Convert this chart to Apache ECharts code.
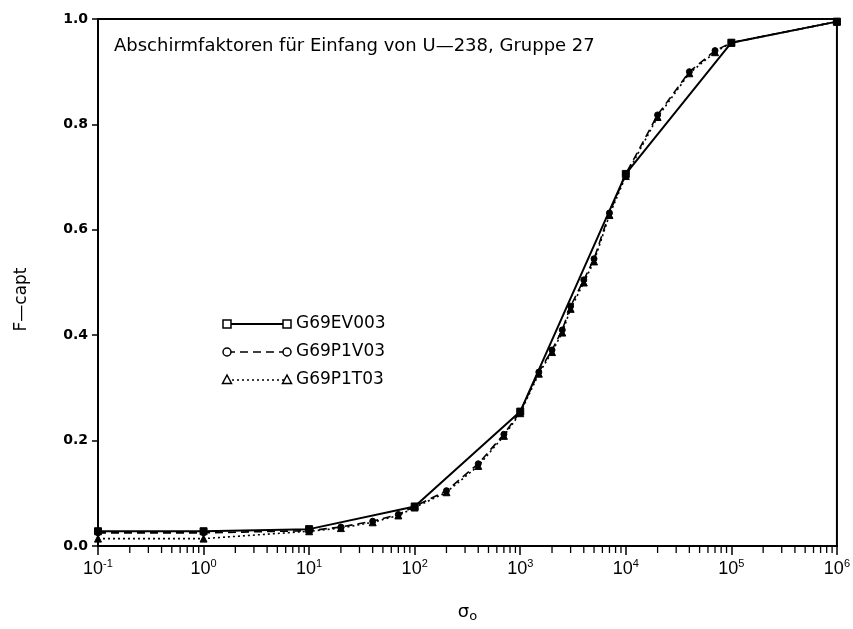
<!DOCTYPE html>
<html>
<head>
<meta charset="utf-8">
<script src="https://cdn.jsdelivr.net/npm/echarts@6/dist/echarts.min.js"></script>
<style>html,body{margin:0;padding:0;background:#fff}#c{width:853px;height:629px}</style>
</head>
<body>
<div id="c"></div>
<script>
// ---- data ----
const sigmaEV = [0.1, 1, 10, 100, 1000, 10000, 100000, 1000000];
const fEV     = [0.028, 0.028, 0.032, 0.075, 0.255, 0.706, 0.955, 0.995];

const sigmaP  = [0.1, 1, 10, 20, 40, 70, 100, 200, 400, 700, 1000, 1500, 2000, 2500, 3000, 4000, 5000, 7000, 10000, 20000, 40000, 70000, 100000, 1000000];
const fP1V    = [0.025, 0.025, 0.029, 0.036, 0.047, 0.06, 0.075, 0.105, 0.156, 0.212, 0.255, 0.33, 0.372, 0.41, 0.455, 0.505, 0.545, 0.632, 0.706, 0.818, 0.9, 0.94, 0.955, 0.995];
const fP1T    = [0.014, 0.014, 0.028, 0.034, 0.045, 0.058, 0.073, 0.102, 0.152, 0.209, 0.252, 0.327, 0.368, 0.405, 0.45, 0.5, 0.54, 0.628, 0.702, 0.814, 0.897, 0.937, 0.955, 0.995];

const seriesNames = ['G69EV003', 'G69P1V03', 'G69P1T03'];
const titleText = 'Abschirmfaktoren für Einfang von U—238, Gruppe 27';
const yName = 'F—capt';

// minor tick positions of the log axis (2..9 in each decade)
const minorTicks = [];
for (let d = -1; d < 6; d++) for (let k = 2; k <= 9; k++) minorTicks.push([k * Math.pow(10, d), 0]);

const FONT = 'DejaVu Sans';
const chart = echarts.init(document.getElementById('c'), null, {renderer: 'canvas'});

function pairs(xs, ys) { return xs.map((x, i) => [x, ys[i]]); }

const lineStyles = [
  {type: 'solid', width: 2},
  {type: [8, 5], width: 1.6},
  {type: [2, 3], width: 1.6}
];

// legend built as graphic (line with marker at both ends + text)
const legendRows = [324, 352, 380];
const legendGraphics = [];
seriesNames.forEach((n, i) => {
  const y = legendRows[i];
  legendGraphics.push({type: 'line', shape: {x1: 227, y1: y, x2: 287, y2: y},
    style: {stroke: '#000', lineWidth: i === 0 ? 2 : 1.6, lineDash: i === 0 ? null : lineStyles[i].type}});
  const mk = (cx) => {
    if (i === 0) return {type: 'rect', shape: {x: cx - 4, y: y - 4, width: 8, height: 8}, style: {fill: '#fff', stroke: '#000', lineWidth: 1.5}};
    if (i === 1) return {type: 'circle', shape: {cx: cx, cy: y, r: 4}, style: {fill: '#fff', stroke: '#000', lineWidth: 1.5}};
    return {type: 'polygon', shape: {points: [[cx, y - 5], [cx - 4.5, y + 3.5], [cx + 4.5, y + 3.5]]}, style: {fill: '#fff', stroke: '#000', lineWidth: 1.5}};
  };
  legendGraphics.push(mk(227));
  legendGraphics.push(mk(287));
  legendGraphics.push({type: 'text', x: 296, y: y, style: {text: n, font: '17px "' + FONT + '"', fill: '#000', textVerticalAlign: 'middle'}});
});

const option = {
  backgroundColor: '#fff',
  animation: false,
  title: {text: titleText, left: 109, top: 32, textStyle: {fontFamily: FONT, fontSize: 18, fontWeight: 'normal', color: '#000'}},
  grid: {left: 98, right: 8, top: 19, bottom: 83, show: true, borderColor: '#000', borderWidth: 2, backgroundColor: 'transparent'},
  xAxis: {
    type: 'log', logBase: 10, min: 0.1, max: 1000000, interval: 1,
    axisLine: {show: true, lineStyle: {color: '#000', width: 2}},
    axisTick: {show: true, inside: false, length: 9, lineStyle: {color: '#000', width: 1.5}},
    splitLine: {show: false},
    axisLabel: {
      margin: 12,
      formatter: function (v) {
        const e = Math.round(Math.log10(v));
        return '{b|10}{s|' + e + '}';
      },
      rich: {
        b: {fontFamily: 'Liberation Sans', fontSize: 18, color: '#000'},
        s: {fontFamily: 'Liberation Sans', fontSize: 11, color: '#000', padding: [0, 0, 12, 0]}
      }
    },
    name: '{a|σ}{o|o}', nameLocation: 'middle', nameGap: 56,
    nameTextStyle: {rich: {a: {fontFamily: FONT, fontSize: 18, color: '#000'}, o: {fontFamily: FONT, fontSize: 13, color: '#000', padding: [8, 0, 0, 0]}}}
  },
  yAxis: {
    type: 'value', min: 0, max: 1, interval: 0.2,
    axisLine: {show: true, lineStyle: {color: '#000', width: 2}},
    axisTick: {show: true, inside: false, length: 6, lineStyle: {color: '#000', width: 1.5}},
    splitLine: {show: false},
    axisLabel: {margin: 10, fontFamily: FONT, fontSize: 14, fontWeight: 'bold', color: '#000', formatter: v => v.toFixed(1)},
    name: yName, nameLocation: 'middle', nameGap: 68,
    nameTextStyle: {fontFamily: FONT, fontSize: 17, color: '#000', padding: [0, 34, 0, 0]}
  },
  graphic: legendGraphics,
  series: [
    {name: seriesNames[0], type: 'line', data: pairs(sigmaEV, fEV), symbol: 'rect', symbolSize: 7, showSymbol: true,
      lineStyle: {color: '#000', type: lineStyles[0].type, width: lineStyles[0].width},
      itemStyle: {color: '#000', borderColor: '#000', borderWidth: 1}, z: 3},
    {name: seriesNames[1], type: 'line', data: pairs(sigmaP, fP1V), symbol: 'circle', symbolSize: 6, showSymbol: true,
      lineStyle: {color: '#000', type: lineStyles[1].type, width: lineStyles[1].width},
      itemStyle: {color: '#000', borderColor: '#000', borderWidth: 1}, z: 3},
    {name: seriesNames[2], type: 'line', data: pairs(sigmaP, fP1T), symbol: 'triangle', symbolSize: 7, showSymbol: true,
      lineStyle: {color: '#000', type: lineStyles[2].type, width: lineStyles[2].width},
      itemStyle: {color: '#000', borderColor: '#000', borderWidth: 1}, z: 3},
    {type: 'custom', data: minorTicks, clip: false, silent: true, z: 4,
      renderItem: function (params, api) {
        const p = api.coord([api.value(0), 0]);
        return {type: 'line', shape: {x1: p[0], y1: p[1], x2: p[0], y2: p[1] + 7}, style: {stroke: '#000', lineWidth: 1.3}};
      }}
  ]
};
chart.setOption(option);
</script>
</body>
</html>
